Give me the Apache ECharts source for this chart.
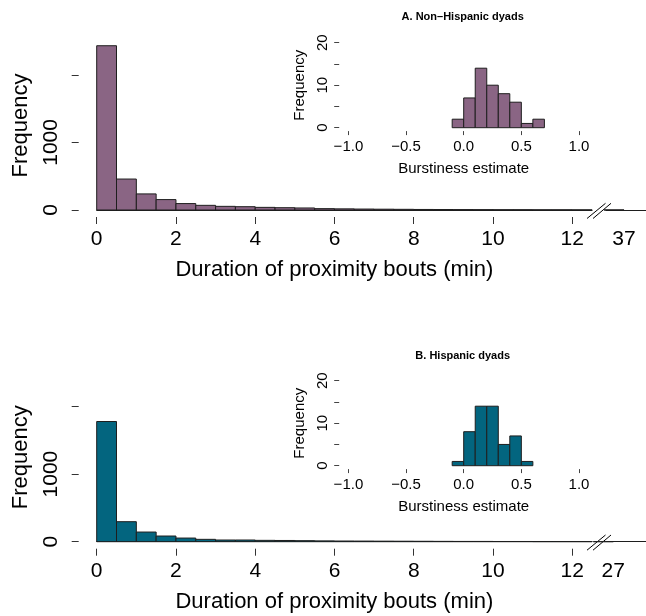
<!DOCTYPE html>
<html>
<head>
<meta charset="utf-8">
<script src="https://cdn.jsdelivr.net/npm/echarts@6/dist/echarts.min.js"></script>
<style>
  html, body { margin: 0; padding: 0; background: #fff; }
  #main { width: 646px; height: 616px; }
</style>
</head>
<body>
<div id="main"></div>
<script>
// duration histograms, 0.5 min bins starting at 0
let durBinWidth = 0.5;
let nonHispDuration = [2430, 458, 238, 154, 95, 69, 54, 49, 39, 34, 30, 20, 17, 14, 12, 10, 8, 7, 6, 5, 4, 4, 3, 3, 2];
let hispDuration = [1778, 296, 143, 84, 54, 35, 25, 25, 20, 18, 15, 12, 10, 9, 8, 7, 6, 5, 4, 4, 3, 3, 2, 2, 2];
let nonHispMaxDuration = 37;
let hispMaxDuration = 27;
let tailCount = [1];

// burstiness histograms, 0.1 bins starting at -0.1
let burstStart = -0.1;
let burstBinWidth = 0.1;
let nonHispBurst = [2, 7, 14, 10, 8, 6, 1, 2];
let hispBurst = [1, 8, 14, 14, 5, 7, 1];

// ticks
let durTicks = [0, 2, 4, 6, 8, 10, 12];
let freqTicks = [0, 1000, 2000];
let freqLabels = [0, 1000];
let burstTicks = [-1, -0.5, 0, 0.5, 1];
let insetFreqTicks = [0, 5, 10, 15, 20];
let insetFreqLabels = [0, 10, 20];

let panelTitles = ['A. Non\u2013Hispanic dyads', 'B. Hispanic dyads'];

let FONT = '"Liberation Sans", Arial, Helvetica, sans-serif';

let toBins = function (counts, start, width) {
  let out = [];
  for (let i = 0; i < counts.length; i++) {
    out.push([start + i * width, start + (i + 1) * width, counts[i]]);
  }
  return out;
};

let rectItem = function (fill) {
  return function (params, api) {
    let p0 = api.coord([api.value(0), api.value(2)]);
    let p1 = api.coord([api.value(1), 0]);
    return {
      type: 'rect',
      shape: { x: p0[0], y: p0[1], width: p1[0] - p0[0], height: p1[1] - p0[1] },
      style: { fill: fill, stroke: '#1e1e1e', lineWidth: 1 }
    };
  };
};

let plain = function (v) { return String(v); };

let panels = [
  {
    duration: nonHispDuration, maxDur: nonHispMaxDuration, burst: nonHispBurst,
    color: '#8a6584', mainTop: 41, base: 210, insetTop: 39.3, tailLabelX: 624, titleY: 17.3
  },
  {
    duration: hispDuration, maxDur: hispMaxDuration, burst: hispBurst,
    color: '#03657f', mainTop: 372.7, base: 541.7, insetTop: 377.3, tailLabelX: 613.3, titleY: 356
  }
];

let grid = [], xAxis = [], yAxis = [], series = [], graphic = [];
let mainLeft = 96.7, mainUnit = 39.63, mainMax = 12.5, mainH = 169;
let tailLeft = 606, tailW = 40;
let insetLeft = 339.2, insetW = 249, insetH = 91.8;

panels.forEach(function (p, k) {
  let tailMin = p.maxDur - (p.tailLabelX - tailLeft) / tailW;
  grid.push(
    { left: mainLeft, top: p.mainTop, width: mainUnit * mainMax, height: mainH, outerBoundsMode: 'none' },
    { left: tailLeft, top: p.mainTop, width: tailW, height: mainH, outerBoundsMode: 'none' },
    { left: insetLeft, top: p.insetTop, width: insetW, height: insetH, outerBoundsMode: 'none' }
  );
  xAxis.push(
    {
      type: 'value', gridIndex: 3 * k, position: 'bottom', min: 0, max: mainMax, offset: 7,
      axisLine: { show: false, onZero: false }, splitLine: { show: false },
      axisTick: { customValues: durTicks, length: 7, lineStyle: { color: '#333' } },
      axisLabel: { customValues: durTicks, margin: 12, fontSize: 21, color: '#000', fontFamily: FONT, formatter: plain },
      name: 'Duration of proximity bouts (min)', nameLocation: 'middle', nameGap: 42,
      nameMoveOverlap: false,
      nameTextStyle: { fontSize: 22, color: '#000', fontFamily: FONT, padding: [0, 20, 0, 0] }
    },
    {
      type: 'value', gridIndex: 3 * k, position: 'bottom', min: 0, max: mainMax,
      axisLine: { show: true, onZero: false, lineStyle: { color: '#1e1e1e', width: 1 } },
      axisTick: { show: false }, axisLabel: { show: false }, splitLine: { show: false }
    },
    {
      type: 'value', gridIndex: 3 * k + 1, position: 'bottom', min: tailMin, max: tailMin + 1,
      axisLine: { show: true, onZero: false, lineStyle: { color: '#1e1e1e', width: 1 } },
      axisTick: { show: false }, splitLine: { show: false },
      axisLabel: { customValues: [p.maxDur], margin: 19, fontSize: 21, color: '#000', fontFamily: FONT, formatter: plain }
    },
    {
      type: 'value', gridIndex: 3 * k + 2, position: 'bottom', min: -1.08, max: 1.08,
      axisLine: { show: false, onZero: false }, splitLine: { show: false },
      axisTick: { customValues: burstTicks, length: 4, lineStyle: { color: '#444' } },
      axisLabel: {
        customValues: burstTicks, margin: 8, fontSize: 15, color: '#000', fontFamily: FONT,
        formatter: function (v) { return v.toFixed(1).replace('-', '\u2212'); }
      },
      name: 'Burstiness estimate', nameLocation: 'middle', nameGap: 30, nameMoveOverlap: false,
      nameTextStyle: { fontSize: 15, color: '#000', fontFamily: FONT }
    }
  );
  yAxis.push(
    {
      type: 'value', gridIndex: 3 * k, position: 'left', min: 0, max: 2500, offset: 18,
      axisLine: { show: false, onZero: false }, splitLine: { show: false },
      axisTick: { customValues: freqTicks, length: 7, lineStyle: { color: '#333' } },
      axisLabel: { customValues: freqLabels, rotate: 90, margin: 17, fontSize: 21, color: '#000', fontFamily: FONT, formatter: plain },
      name: 'Frequency', nameLocation: 'middle', nameRotate: 90, nameGap: 47, nameMoveOverlap: false,
      nameTextStyle: { fontSize: 22, color: '#000', fontFamily: FONT }
    },
    {
      type: 'value', gridIndex: 3 * k + 1, min: 0, max: 2500, show: false
    },
    {
      type: 'value', gridIndex: 3 * k + 2, position: 'left', min: -0.8, max: 20.8,
      axisLine: { show: false, onZero: false }, splitLine: { show: false },
      axisTick: { customValues: insetFreqTicks, length: 5, lineStyle: { color: '#444' } },
      axisLabel: { customValues: insetFreqLabels, rotate: 90, margin: 9, fontSize: 15, color: '#000', fontFamily: FONT, formatter: plain },
      name: 'Frequency', nameLocation: 'middle', nameRotate: 90, nameGap: 32, nameMoveOverlap: false,
      nameTextStyle: { fontSize: 15, color: '#000', fontFamily: FONT }
    }
  );
  series.push(
    {
      type: 'custom', xAxisIndex: 4 * k, yAxisIndex: 3 * k,
      encode: { x: [0, 1], y: 2 }, renderItem: rectItem(p.color),
      data: toBins(p.duration, 0, durBinWidth)
    },
    {
      type: 'custom', xAxisIndex: 4 * k + 2, yAxisIndex: 3 * k + 1,
      encode: { x: [0, 1], y: 2 }, renderItem: rectItem(p.color),
      data: toBins(tailCount, p.maxDur - durBinWidth, durBinWidth)
    },
    {
      type: 'custom', xAxisIndex: 4 * k + 3, yAxisIndex: 3 * k + 2,
      encode: { x: [0, 1], y: 2 }, renderItem: rectItem(p.color),
      data: toBins(p.burst, burstStart, burstBinWidth)
    }
  );
  // axis break slashes
  graphic.push(
    { type: 'line', shape: { x1: 587, y1: p.base + 8.5, x2: 605.5, y2: p.base - 6.7 }, style: { stroke: '#000', lineWidth: 1 } },
    { type: 'line', shape: { x1: 593, y1: p.base + 8.5, x2: 611, y2: p.base - 6.7 }, style: { stroke: '#000', lineWidth: 1 } },
    {
      type: 'text', x: 462.7, y: p.titleY,
      style: { text: panelTitles[k], fontSize: 11, fontWeight: 'bold', fontFamily: FONT, fill: '#000', align: 'center', verticalAlign: 'middle' }
    }
  );
});

let myChart = echarts.init(document.getElementById('main'), null, { renderer: 'canvas' });
myChart.setOption({
  backgroundColor: '#fff',
  animation: false,
  grid: grid,
  xAxis: xAxis,
  yAxis: yAxis,
  series: series,
  graphic: graphic
});
</script>
</body>
</html>
